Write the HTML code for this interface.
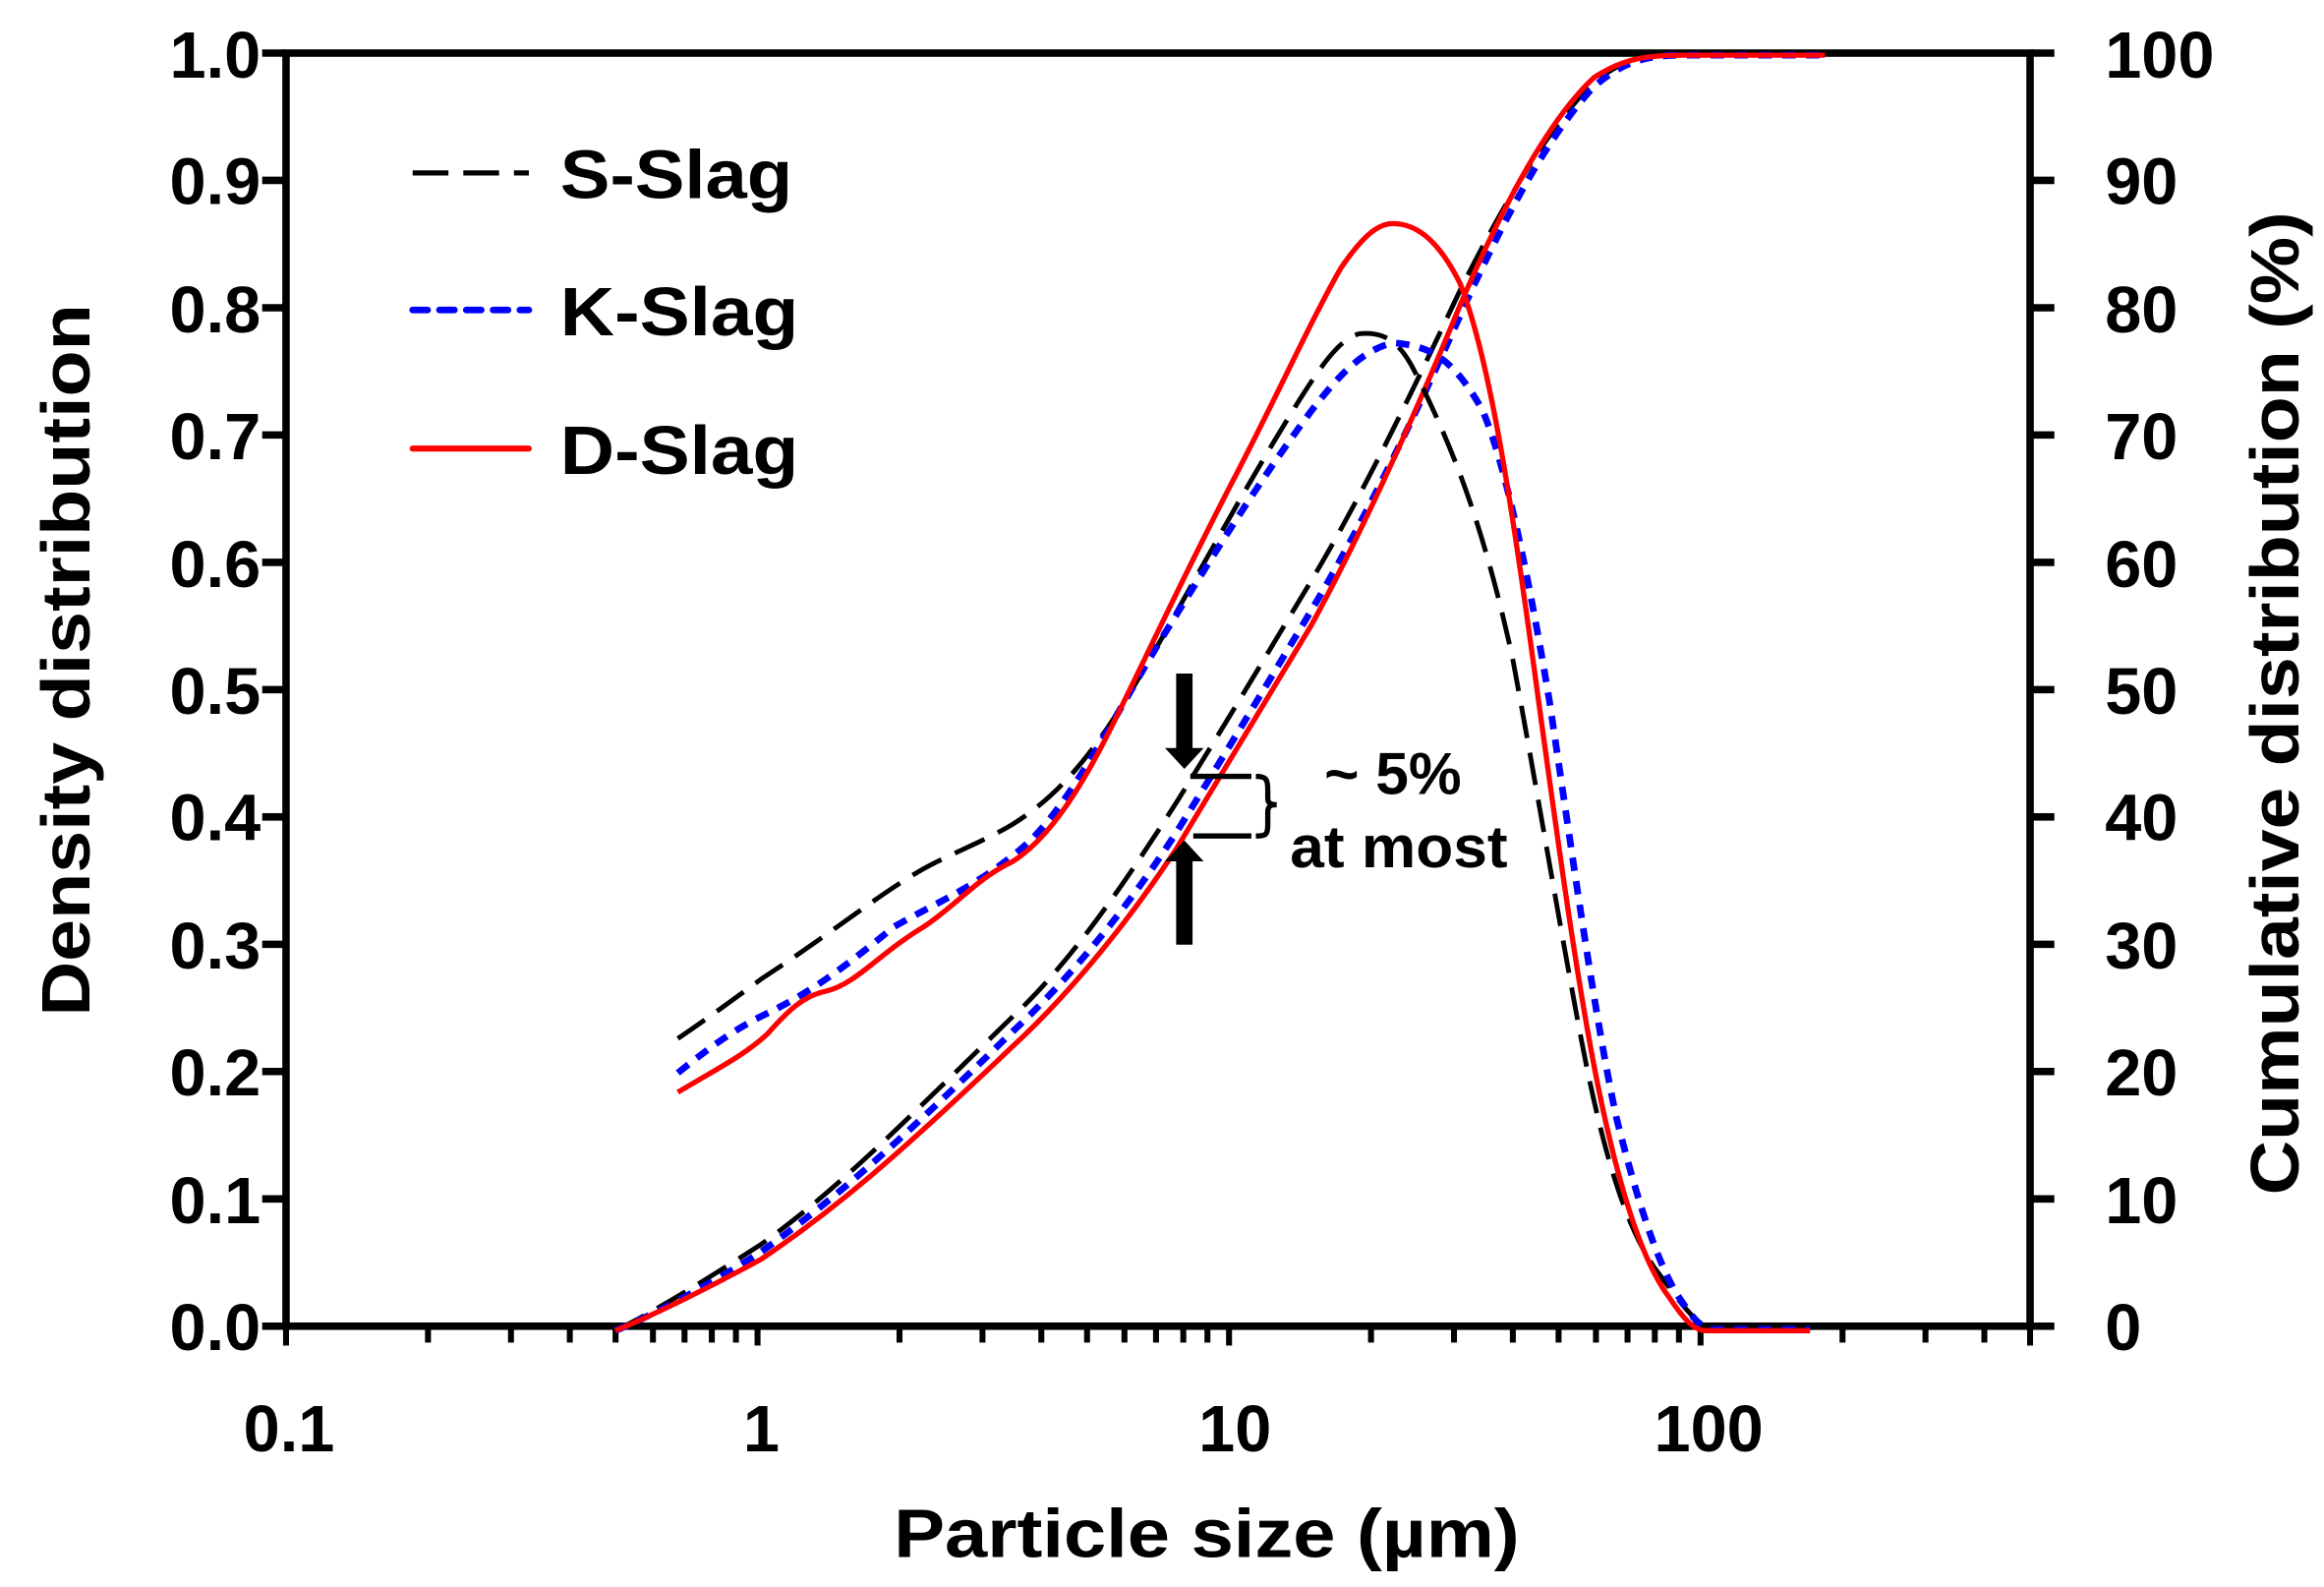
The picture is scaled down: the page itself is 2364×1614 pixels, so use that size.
<!DOCTYPE html>
<html><head><meta charset="utf-8"><style>html,body{margin:0;padding:0;background:#fff}svg{display:block}</style></head>
<body>
<svg width="2364" height="1614" viewBox="0 0 1560 1065" xmlns="http://www.w3.org/2000/svg" font-family="Liberation Sans, Arial, sans-serif" font-weight="bold">
<rect width="1560" height="1065" fill="#fff"/>
<g stroke="#000" stroke-width="5" fill="none">
<rect x="192" y="35.6" width="1170.7" height="854.4"/>
</g>
<g stroke="#000" stroke-width="5">
<line x1="176" y1="35.6" x2="192" y2="35.6"/><line x1="176" y1="121" x2="192" y2="121"/><line x1="176" y1="206.5" x2="192" y2="206.5"/><line x1="176" y1="291.9" x2="192" y2="291.9"/><line x1="176" y1="377.4" x2="192" y2="377.4"/><line x1="176" y1="462.8" x2="192" y2="462.8"/><line x1="176" y1="548.2" x2="192" y2="548.2"/><line x1="176" y1="633.7" x2="192" y2="633.7"/><line x1="176" y1="719.1" x2="192" y2="719.1"/><line x1="176" y1="804.6" x2="192" y2="804.6"/><line x1="176" y1="890" x2="192" y2="890"/>
<line x1="1363" y1="35.6" x2="1379" y2="35.6"/><line x1="1363" y1="121" x2="1379" y2="121"/><line x1="1363" y1="206.5" x2="1379" y2="206.5"/><line x1="1363" y1="291.9" x2="1379" y2="291.9"/><line x1="1363" y1="377.4" x2="1379" y2="377.4"/><line x1="1363" y1="462.8" x2="1379" y2="462.8"/><line x1="1363" y1="548.2" x2="1379" y2="548.2"/><line x1="1363" y1="633.7" x2="1379" y2="633.7"/><line x1="1363" y1="719.1" x2="1379" y2="719.1"/><line x1="1363" y1="804.6" x2="1379" y2="804.6"/><line x1="1363" y1="890" x2="1379" y2="890"/>
</g>
<g stroke="#000" stroke-width="4">
<line x1="192" y1="890" x2="192" y2="903"/><line x1="287.3" y1="890" x2="287.3" y2="901"/><line x1="343" y1="890" x2="343" y2="901"/><line x1="382.5" y1="890" x2="382.5" y2="901"/><line x1="413.2" y1="890" x2="413.2" y2="901"/><line x1="438.3" y1="890" x2="438.3" y2="901"/><line x1="459.5" y1="890" x2="459.5" y2="901"/><line x1="477.8" y1="890" x2="477.8" y2="901"/><line x1="494" y1="890" x2="494" y2="901"/>
<line x1="508.5" y1="890" x2="508.5" y2="903"/><line x1="603.8" y1="890" x2="603.8" y2="901"/><line x1="659.5" y1="890" x2="659.5" y2="901"/><line x1="699" y1="890" x2="699" y2="901"/><line x1="729.7" y1="890" x2="729.7" y2="901"/><line x1="754.8" y1="890" x2="754.8" y2="901"/><line x1="776" y1="890" x2="776" y2="901"/><line x1="794.3" y1="890" x2="794.3" y2="901"/><line x1="810.5" y1="890" x2="810.5" y2="901"/>
<line x1="825" y1="890" x2="825" y2="903"/><line x1="920.3" y1="890" x2="920.3" y2="901"/><line x1="976" y1="890" x2="976" y2="901"/><line x1="1015.5" y1="890" x2="1015.5" y2="901"/><line x1="1046.2" y1="890" x2="1046.2" y2="901"/><line x1="1071.3" y1="890" x2="1071.3" y2="901"/><line x1="1092.5" y1="890" x2="1092.5" y2="901"/><line x1="1110.8" y1="890" x2="1110.8" y2="901"/><line x1="1127" y1="890" x2="1127" y2="901"/>
<line x1="1141.5" y1="890" x2="1141.5" y2="903"/><line x1="1236.8" y1="890" x2="1236.8" y2="901"/><line x1="1292.5" y1="890" x2="1292.5" y2="901"/><line x1="1332" y1="890" x2="1332" y2="901"/><line x1="1362.7" y1="890" x2="1362.7" y2="903"/>
</g>
<g font-size="44" fill="#000" text-anchor="end">
<text x="175" y="52">1.0</text><text x="175" y="137">0.9</text><text x="175" y="223">0.8</text><text x="175" y="308">0.7</text><text x="175" y="394">0.6</text><text x="175" y="479">0.5</text><text x="175" y="564">0.4</text><text x="175" y="650">0.3</text><text x="175" y="735">0.2</text><text x="175" y="821">0.1</text><text x="175" y="906">0.0</text>
</g>
<g font-size="44" fill="#000" text-anchor="start">
<text x="1413" y="52">100</text><text x="1413" y="137">90</text><text x="1413" y="223">80</text><text x="1413" y="308">70</text><text x="1413" y="394">60</text><text x="1413" y="479">50</text><text x="1413" y="564">40</text><text x="1413" y="650">30</text><text x="1413" y="735">20</text><text x="1413" y="821">10</text><text x="1413" y="906">0</text>
</g>
<g font-size="44" fill="#000" text-anchor="middle">
<text x="194" y="974">0.1</text><text x="511" y="974">1</text><text x="829" y="974">10</text><text x="1147" y="974">100</text>
</g>
<text x="600" y="1045" font-size="46" textLength="420" lengthAdjust="spacingAndGlyphs">Particle size (µm)</text>
<text transform="translate(60,443) rotate(-90)" font-size="46" text-anchor="middle" textLength="478" lengthAdjust="spacingAndGlyphs">Density distribution</text>
<text transform="translate(1543,472) rotate(-90)" font-size="46" text-anchor="middle" textLength="660" lengthAdjust="spacingAndGlyphs">Cumulative distribution (%)</text>
<line x1="277" y1="116" x2="355" y2="116" stroke="#000" stroke-width="3.5" stroke-dasharray="24,10"/>
<line x1="277" y1="208" x2="355" y2="208" stroke="#00f" stroke-width="4.5" stroke-dasharray="10,8" stroke-linecap="round"/>
<line x1="277" y1="301" x2="355" y2="301" stroke="#f00" stroke-width="4" stroke-linecap="round"/>
<g font-size="46"><text x="376" y="133" textLength="156" lengthAdjust="spacingAndGlyphs">S-Slag</text><text x="376" y="225" textLength="160" lengthAdjust="spacingAndGlyphs">K-Slag</text><text x="376" y="318" textLength="160" lengthAdjust="spacingAndGlyphs">D-Slag</text></g>
<g fill="none" stroke-linejoin="round">
<path d="M413,893 C440,880 480,855 511,835 C560,800 600,760 680,682 C720,645 760,585 790,538 C820,490 850,440 880,390 C910,340 940,280 980,195 C1010,135 1040,85 1070,55 C1090,40 1100,37 1130,37 L1225,37" stroke="#000" stroke-width="3.2" stroke-dasharray="22,10"/>
<path d="M413,893 C440,882 480,860 511,840 C560,805 600,770 680,692 C720,655 760,605 790,558 C820,510 850,460 880,410 C910,360 945,290 980,212 C1010,145 1040,90 1070,58 C1090,41 1105,37 1130,37 L1225,37" stroke="#00f" stroke-width="4.5" stroke-dasharray="9,7"/>
<path d="M413,893 C440,882 480,862 511,845 C560,812 600,778 680,702 C720,665 760,615 790,569 C820,520 850,470 880,420 C910,365 945,290 980,205 C1010,135 1040,80 1070,52 C1090,39 1105,37 1130,37 L1225,37" stroke="#f00" stroke-width="3.5"/>
<path d="M455,697 C480,680 500,665 511,657 C560,625 590,600 620,583 C640,572 660,565 680,553 C720,528 745,490 780,428 C810,375 840,320 870,272 C890,240 900,228 912,224 C930,222 940,230 950,250 C975,300 995,350 1015,440 C1030,520 1045,610 1060,690 C1075,770 1090,820 1110,850 C1125,870 1135,885 1145,890" stroke="#000" stroke-width="3.2" stroke-dasharray="22,10"/>
<path d="M455,720 C480,700 495,690 511,682 C540,668 560,655 600,622 C630,605 655,595 685,570 C715,545 740,495 780,428 C810,380 840,330 880,276 C900,250 915,235 935,230 C960,232 975,240 995,275 C1010,310 1025,380 1040,470 C1055,570 1070,680 1085,750 C1100,810 1115,855 1130,875 C1138,887 1143,891 1148,892 L1215,892" stroke="#00f" stroke-width="4.5" stroke-dasharray="9,7"/>
<path d="M455,733 C480,718 500,708 515,694 C530,677 540,668 555,665 C575,660 590,640 620,622 C645,605 655,590 680,578 C700,565 720,540 745,490 C770,440 795,385 830,318 C860,260 880,215 900,180 C915,158 925,150 935,150 C950,150 965,160 980,190 C1000,240 1015,340 1030,450 C1045,560 1060,670 1075,740 C1090,810 1105,850 1120,870 C1130,885 1137,893 1145,893 L1215,893" stroke="#f00" stroke-width="3.5"/>
</g>
<g stroke="#000" fill="#000">
<line x1="795" y1="452" x2="795" y2="503" stroke-width="11"/>
<polygon points="782,502 808,502 795,516" stroke="none"/>
<line x1="795" y1="634" x2="795" y2="577" stroke-width="11"/>
<polygon points="782,578 808,578 795,564" stroke="none"/>
<line x1="799" y1="521" x2="840" y2="521" stroke-width="3.5"/>
<line x1="801" y1="561" x2="840" y2="561" stroke-width="3.5"/>
<path d="M843,521 C850,521 851,523 851,530 L851,536 C851,539 853,540 857,540 C853,540 851,541 851,545 L851,553 C851,560 850,561 843,561" fill="none" stroke-width="3.5"/>
</g>
<g font-size="40"><text x="889" y="533" textLength="92" lengthAdjust="spacingAndGlyphs">~ 5%</text><text x="866" y="582" textLength="146" lengthAdjust="spacingAndGlyphs">at most</text></g>
</svg>
</body></html>
